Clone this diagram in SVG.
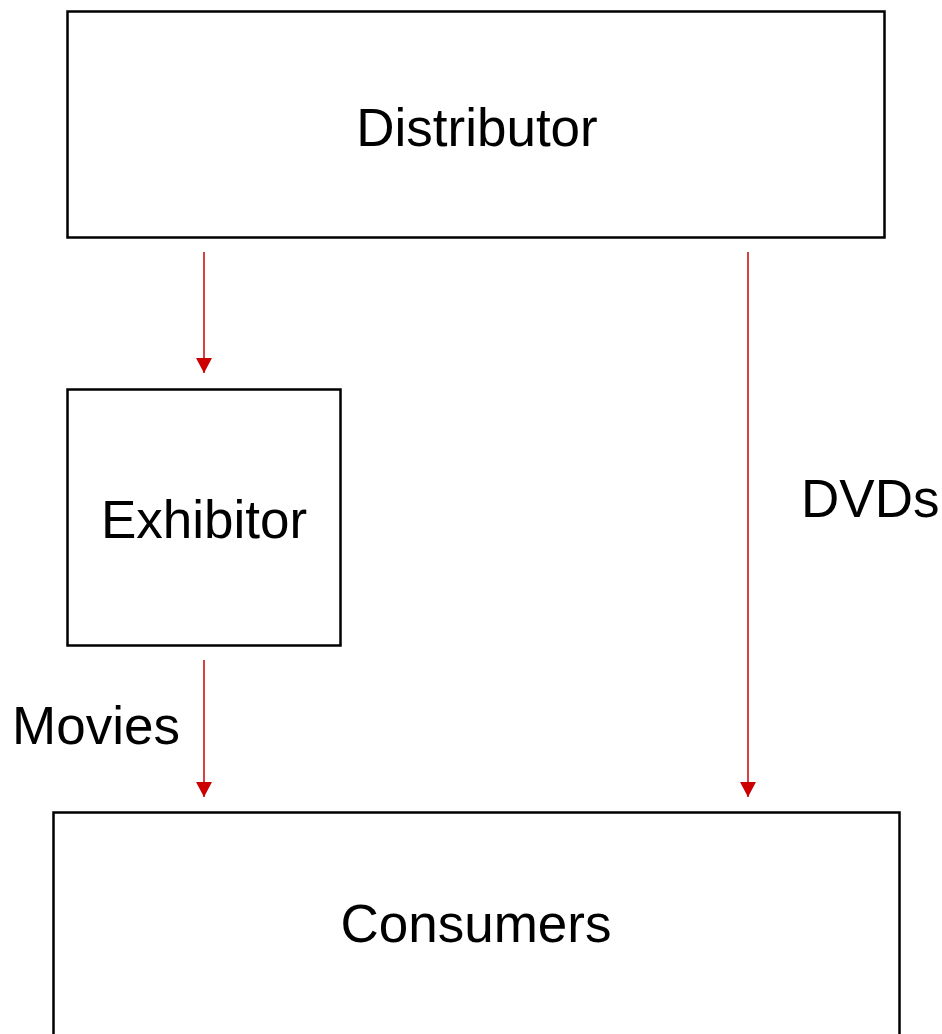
<svg xmlns="http://www.w3.org/2000/svg" width="942" height="1034" viewBox="0 0 942 1034">
<style>
.box{fill:#fff;stroke:#000;stroke-width:2.5}
.lbl{font-family:"Liberation Sans",Arial,sans-serif;font-size:53px;fill:#000}
.c{text-anchor:middle}
.con{stroke:#CC0000;stroke-width:1.5;fill:none}
</style>
<defs>
<marker id="ah" markerUnits="userSpaceOnUse" markerWidth="16" markerHeight="16" refX="15" refY="8" orient="auto">
<path d="M0,0 L15,8 L0,16 Z" fill="#CC0000"/>
</marker>
</defs>
<rect width="942" height="1034" fill="#fff"/>
<g id="distributor">
<rect class="box" x="67.5" y="11.5" width="817" height="226"/>
<text class="lbl c" x="477" y="146">Distributor</text>
</g>
<g id="exhibitor">
<rect class="box" x="67.5" y="389.5" width="273" height="256"/>
<text class="lbl c" x="204" y="538">Exhibitor</text>
</g>
<g id="consumers">
<rect class="box" x="53.5" y="812.5" width="846" height="240"/>
<text class="lbl c" x="476" y="942">Consumers</text>
</g>
<g id="connectors">
<line class="con" x1="204" y1="252" x2="204" y2="373" marker-end="url(#ah)"/>
<line class="con" x1="748" y1="252" x2="748" y2="797" marker-end="url(#ah)"/>
<line class="con" x1="204" y1="660" x2="204" y2="797" marker-end="url(#ah)"/>
<text class="lbl" x="12" y="744">Movies</text>
<text class="lbl" x="801" y="517">DVDs</text>
</g>
</svg>
